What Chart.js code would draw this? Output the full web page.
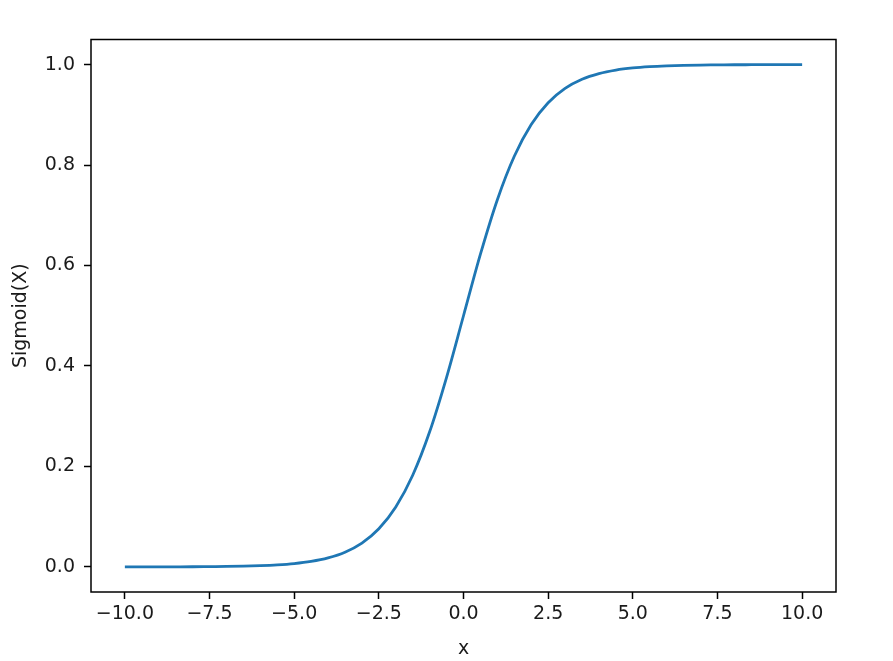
<!DOCTYPE html>
<html>
<head>
<meta charset="utf-8">
<script src="https://cdn.jsdelivr.net/npm/chart.js@4/dist/chart.umd.min.js"></script>
<style>
  html, body { margin: 0; padding: 0; background: #fff; }
  canvas { display: block; }
</style>
</head>
<body>
<canvas id="c" width="893" height="661"></canvas>
<script>
// x values (categories along the x axis)
const xValues = [-10, -9.5, -9, -8.5, -8, -7.5, -7, -6.5, -6, -5.5, -5, -4.5, -4, -3.5, -3, -2.5, -2, -1.5, -1, -0.5,
                 0, 0.5, 1, 1.5, 2, 2.5, 3, 3.5, 4, 4.5, 5, 5.5, 6, 6.5, 7, 7.5, 8, 8.5, 9, 9.5, 10];
// Sigmoid(X) values
const sigmoidValues = [0.0000, 0.0001, 0.0001, 0.0002, 0.0003, 0.0006, 0.0009, 0.0015, 0.0025, 0.0041,
                       0.0067, 0.0110, 0.0180, 0.0293, 0.0474, 0.0759, 0.1192, 0.1824, 0.2689, 0.3775,
                       0.5000, 0.6225, 0.7311, 0.8176, 0.8808, 0.9241, 0.9526, 0.9707, 0.9820, 0.9890,
                       0.9933, 0.9959, 0.9975, 0.9985, 0.9991, 0.9994, 0.9997, 0.9998, 0.9999, 0.9999, 1.0000];
// tick labels
const xTickValues = [-10, -7.5, -5, -2.5, 0, 2.5, 5, 7.5, 10];
const xTickLabels = ['\u221210.0', '\u22127.5', '\u22125.0', '\u22122.5', '0.0', '2.5', '5.0', '7.5', '10.0'];
const yTickValues = [0, 0.2, 0.4, 0.6, 0.8, 1.0];
const yTickLabels = ['0.0', '0.2', '0.4', '0.6', '0.8', '1.0'];

const FONT = { family: 'DejaVu Sans', size: 19 };
const TEXT = '#1a1a1a';

const framePlugin = {
  id: 'frame',
  afterDatasetsDraw(chart) {
    const a = chart.chartArea, ctx = chart.ctx;
    ctx.save();
    ctx.strokeStyle = '#000';
    ctx.lineWidth = 1.5;
    ctx.strokeRect(a.left, a.top, a.right - a.left, a.bottom - a.top);
    ctx.restore();
  }
};

new Chart(document.getElementById('c'), {
  type: 'line',
  data: {
    datasets: [{
      data: xValues.map((x, i) => ({ x: x, y: sigmoidValues[i] })),
      borderColor: '#1f77b4',
      borderWidth: 2.8,
      pointRadius: 0,
      fill: false,
      cubicInterpolationMode: 'monotone'
    }]
  },
  options: {
    responsive: false,
    animation: false,
    devicePixelRatio: 1,
    layout: { padding: { top: 39.5, right: 57, left: 0, bottom: 0 } },
    plugins: { legend: { display: false }, tooltip: { enabled: false } },
    scales: {
      x: {
        type: 'linear',
        min: -11, max: 11,
        afterBuildTicks: s => { s.ticks = xTickValues.map(v => ({ value: v })); },
        afterFit: s => { s.height = 69; },
        grid: { drawOnChartArea: false, drawTicks: true, tickLength: 7, tickWidth: 1.5, tickColor: '#000' },
        border: { display: false },
        ticks: {
          font: FONT, color: TEXT, padding: 4, maxRotation: 0, autoSkip: false,
          callback: (v, i) => xTickLabels[i]
        },
        title: { display: true, text: 'x', font: FONT, color: TEXT, padding: { top: 0, bottom: 1 } }
      },
      y: {
        type: 'linear',
        min: -0.05, max: 1.05,
        afterBuildTicks: s => { s.ticks = yTickValues.map(v => ({ value: v })); },
        afterFit: s => { s.width = 91; },
        grid: { drawOnChartArea: false, drawTicks: true, tickLength: 7, tickWidth: 1.5, tickColor: '#000' },
        border: { display: false },
        ticks: {
          font: FONT, color: TEXT, padding: 9, autoSkip: false,
          callback: (v, i) => yTickLabels[i]
        },
        title: { display: true, text: 'Sigmoid(X)', font: FONT, color: TEXT, padding: { top: 10, bottom: 0 } }
      }
    }
  },
  plugins: [framePlugin]
});
</script>
</body>
</html>
